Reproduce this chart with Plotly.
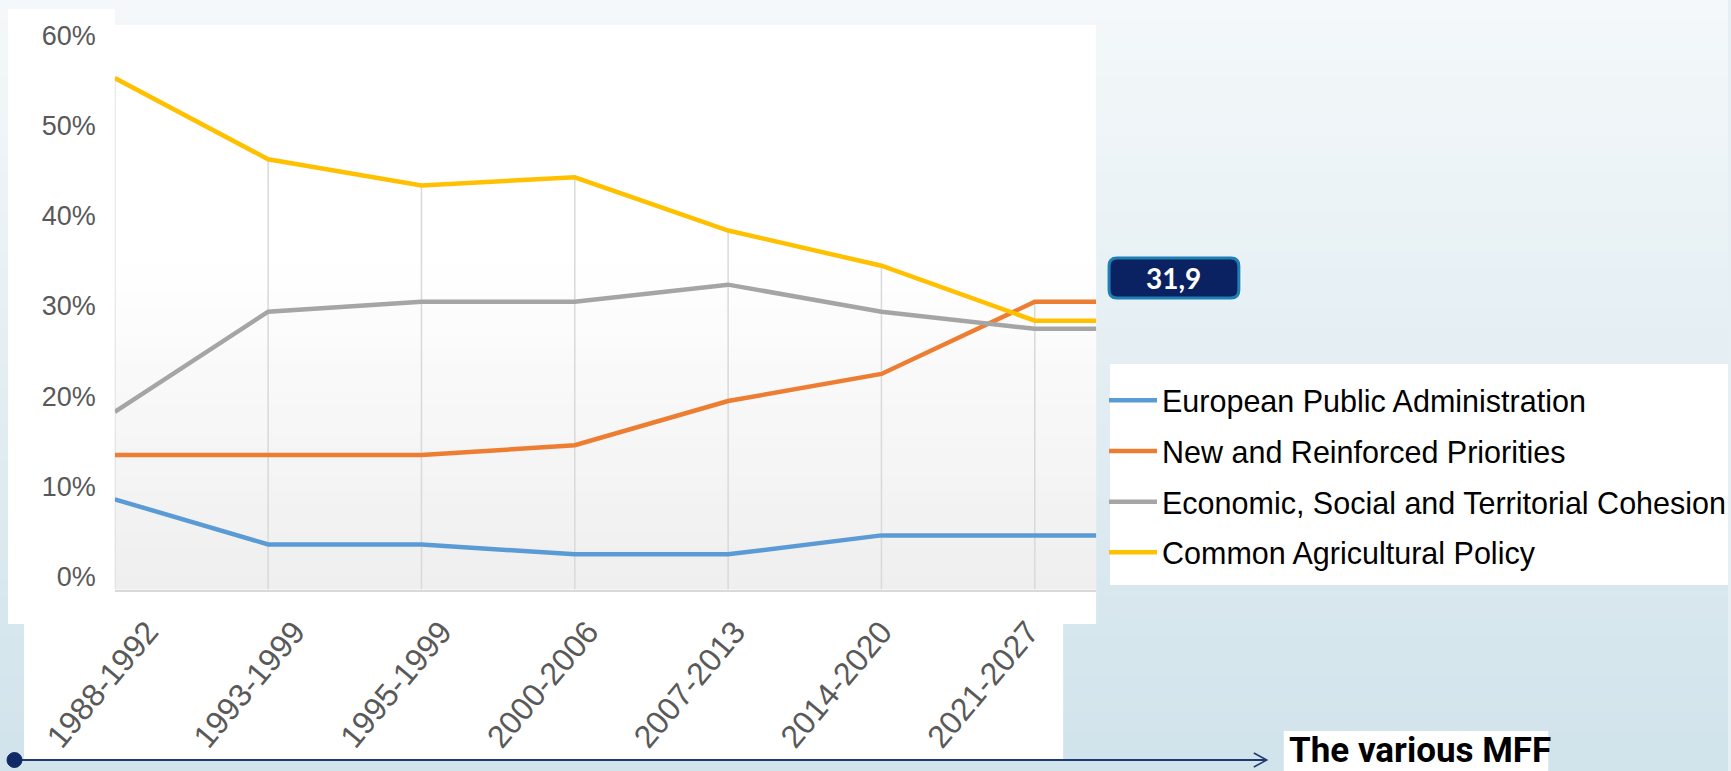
import plotly.graph_objects as go

W, H = 1731, 771

# ---------------- data ----------------
categories = ["1988-1992", "1993-1999", "1995-1999", "2000-2006",
              "2007-2013", "2014-2020", "2021-2027"]
european_public_administration = [10.0, 5.0, 5.0, 3.9, 3.9, 6.0, 6.0]
new_and_reinforced_priorities = [14.9, 14.9, 14.9, 16.0, 20.9, 23.9, 31.9]
economic_social_territorial_cohesion = [19.7, 30.8, 31.9, 31.9, 33.8, 30.8, 28.9]
common_agricultural_policy = [56.7, 47.7, 44.8, 45.7, 39.8, 35.9, 29.8]

series_names = ["European Public Administration", "New and Reinforced Priorities",
                "Economic, Social and Territorial Cohesion", "Common Agricultural Policy"]
series_values = [european_public_administration, new_and_reinforced_priorities,
                 economic_social_territorial_cohesion, common_agricultural_policy]
series_colors = ["#5b9bd5", "#ed7d31", "#a5a5a5", "#ffc000"]

y_tick_values = [0, 10, 20, 30, 40, 50, 60]
y_tick_labels = ["0%", "10%", "20%", "30%", "40%", "50%", "60%"]
highlight_label = "31,9"
footer_label = "The various MFF"


# ---------------- helpers ----------------
def px(x):
    return x / W


def py(y):
    return 1 - y / H


def hex2rgb(h):
    h = h.lstrip("#")
    return tuple(int(h[i:i + 2], 16) for i in (0, 2, 4))


def lerp(c1, c2, t):
    a, b = hex2rgb(c1), hex2rgb(c2)
    return "rgb(%d,%d,%d)" % tuple(round(a[i] + (b[i] - a[i]) * t) for i in range(3))


PLOT_L, PLOT_R = 115, 1098
X_RANGE = 6.4
LABEL_STEP = 147  # px between rotated category labels in the reference

shapes = []
# page background gradient
N = 40
for i in range(N):
    t = i / (N - 1)
    shapes.append(dict(type="rect", xref="paper", yref="paper", x0=0, x1=1,
                       y0=1 - (i + 1) / N - 0.002, y1=1 - i / N,
                       fillcolor=lerp("#f4f8fa", "#d1e3eb", t), line_width=0, layer="below"))
# white chart panels
for (x0, y0, x1, y1) in [(8, 9, 115, 624), (8, 25, PLOT_R, 624), (24, 596, 1065, 759)]:
    shapes.append(dict(type="rect", xref="paper", yref="paper",
                       x0=px(x0), x1=px(x1), y0=py(y1), y1=py(y0),
                       fillcolor="white", line_width=0, layer="below"))
# legend white panel
shapes.append(dict(type="rect", xref="paper", yref="paper",
                   x0=px(1112), x1=1, y0=py(585), y1=py(364),
                   fillcolor="white", line_width=0, layer="below"))
# plot area gradient
M = 24
for i in range(M):
    t = i / (M - 1)
    shapes.append(dict(type="rect", xref="x domain", yref="y domain", x0=0, x1=1,
                       y0=i * 0.6 / M, y1=(i + 1) * 0.6 / M + 0.003,
                       fillcolor=lerp("#efefef", "#ffffff", t), line_width=0, layer="below"))

# highlight box (rounded)
bx0, by0, bx1, by1, r = 1111, 258, 1241, 298, 8
path = (f"M {px(bx0 + r)},{py(by0)} L {px(bx1 - r)},{py(by0)} "
        f"Q {px(bx1)},{py(by0)} {px(bx1)},{py(by0 + r)} L {px(bx1)},{py(by1 - r)} "
        f"Q {px(bx1)},{py(by1)} {px(bx1 - r)},{py(by1)} L {px(bx0 + r)},{py(by1)} "
        f"Q {px(bx0)},{py(by1)} {px(bx0)},{py(by1 - r)} L {px(bx0)},{py(by0 + r)} "
        f"Q {px(bx0)},{py(by0)} {px(bx0 + r)},{py(by0)} Z")
shapes.append(dict(type="path", xref="paper", yref="paper", path=path,
                   fillcolor="#0a2262", line=dict(color="#1d7fb4", width=3)))

# footer white box
shapes.append(dict(type="rect", xref="paper", yref="paper",
                   x0=px(1286), x1=px(1551), y0=0, y1=py(731),
                   fillcolor="white", line_width=0))

# footer arrow line
LY = 760
shapes.append(dict(type="line", xref="paper", yref="paper",
                   x0=px(12), x1=px(1268), y0=py(LY), y1=py(LY),
                   line=dict(color="#1f3a70", width=2)))
shapes.append(dict(type="circle", xref="paper", yref="paper",
                   x0=px(7), x1=px(22), y0=py(LY + 7.5), y1=py(LY - 7.5),
                   fillcolor="#0f2a66", line=dict(color="#0f2a66", width=1)))
shapes.append(dict(type="path", xref="paper", yref="paper",
                   path=f"M {px(1256)},{py(LY - 7)} L {px(1269)},{py(LY)} L {px(1256)},{py(LY + 7)}",
                   line=dict(color="#1f3a70", width=1.5)))

# ---------------- figure ----------------
fig = go.Figure()
xpos = list(range(len(categories)))

# drop lines from the highest series value down to the category axis
drop_x, drop_y = [], []
for i in xpos:
    top = max(v[i] for v in series_values)
    drop_x += [i, i, None]
    drop_y += [0, top, None]
fig.add_trace(go.Scatter(x=drop_x, y=drop_y, mode="lines", showlegend=False,
                         line=dict(color="#d9d9d9", width=1.5), hoverinfo="skip"))

for name, vals, color in zip(series_names, series_values, series_colors):
    # line continues flat to the right edge of the plot area
    fig.add_trace(go.Scatter(
        x=xpos + [len(categories)], y=vals + [vals[-1]], name=name, mode="lines",
        line=dict(color=color, width=4.5), legendgroup=name, hoverinfo="skip"))

# empty carrier so the category-label axis is drawn
fig.add_trace(go.Scatter(x=xpos, y=[None] * len(xpos), xaxis="x2", mode="markers",
                         showlegend=False, hoverinfo="skip", marker=dict(opacity=0)))

annotations = [
    dict(xref="paper", yref="paper", x=px((bx0 + bx1) / 2), y=py((by0 + by1) / 2),
         text=f"<b>{highlight_label}</b>", showarrow=False,
         font=dict(family="Lato", size=28, color="white"), xanchor="center", yanchor="middle"),
    dict(xref="paper", yref="paper", x=px(1289), y=py(750), xanchor="left", yanchor="middle",
         text=f"<b>{footer_label}</b>", showarrow=False,
         font=dict(family="Roboto", size=35, color="black")),
]

tick_font = dict(family="Liberation Sans", size=32, color="#595959")

fig.update_layout(
    width=W, height=H,
    margin=dict(l=0, r=0, t=0, b=0),
    paper_bgcolor="#e6f0f4",
    plot_bgcolor="rgba(0,0,0,0)",
    shapes=shapes,
    annotations=annotations,
    showlegend=True,
    legend=dict(x=px(1106), y=py(374), xanchor="left", yanchor="top",
                bgcolor="rgba(0,0,0,0)", traceorder="grouped", tracegroupgap=8,
                itemwidth=48,
                font=dict(family="Liberation Sans", size=30.5, color="black")),
    xaxis=dict(domain=[px(PLOT_L), px(PLOT_R)], range=[0, X_RANGE],
               tickvals=xpos, showticklabels=False,
               showgrid=False,
               showline=True, linecolor="#d9d9d9", linewidth=1.5,
               zeroline=False, ticks="", automargin=False),
    # category labels: same axis position, label spacing as in the reference picture
    xaxis2=dict(domain=[px(PLOT_L), px(PLOT_R)], anchor="y", overlaying="x", side="bottom",
                range=[0, (PLOT_R - PLOT_L) / LABEL_STEP],
                tickvals=xpos, ticktext=categories, tickangle=-50,
                showgrid=False, showline=False, zeroline=False, ticks="",
                automargin=False, ticklabelstandoff=16, ticklabelshift=33,
                tickfont=tick_font),
    yaxis=dict(domain=[py(589.5), py(24)], range=[0, 62.7],
               tickvals=y_tick_values, ticktext=y_tick_labels,
               showgrid=False, zeroline=False, showline=False, ticks="",
               automargin=False, ticklabelstandoff=18, ticklabelshift=-13,
               tickfont=dict(family="Liberation Sans", size=27, color="#595959")),
)

fig.write_html("out.html", config={"displayModeBar": False},
               post_script="document.body.style.margin='0';document.body.style.overflow='hidden';")
